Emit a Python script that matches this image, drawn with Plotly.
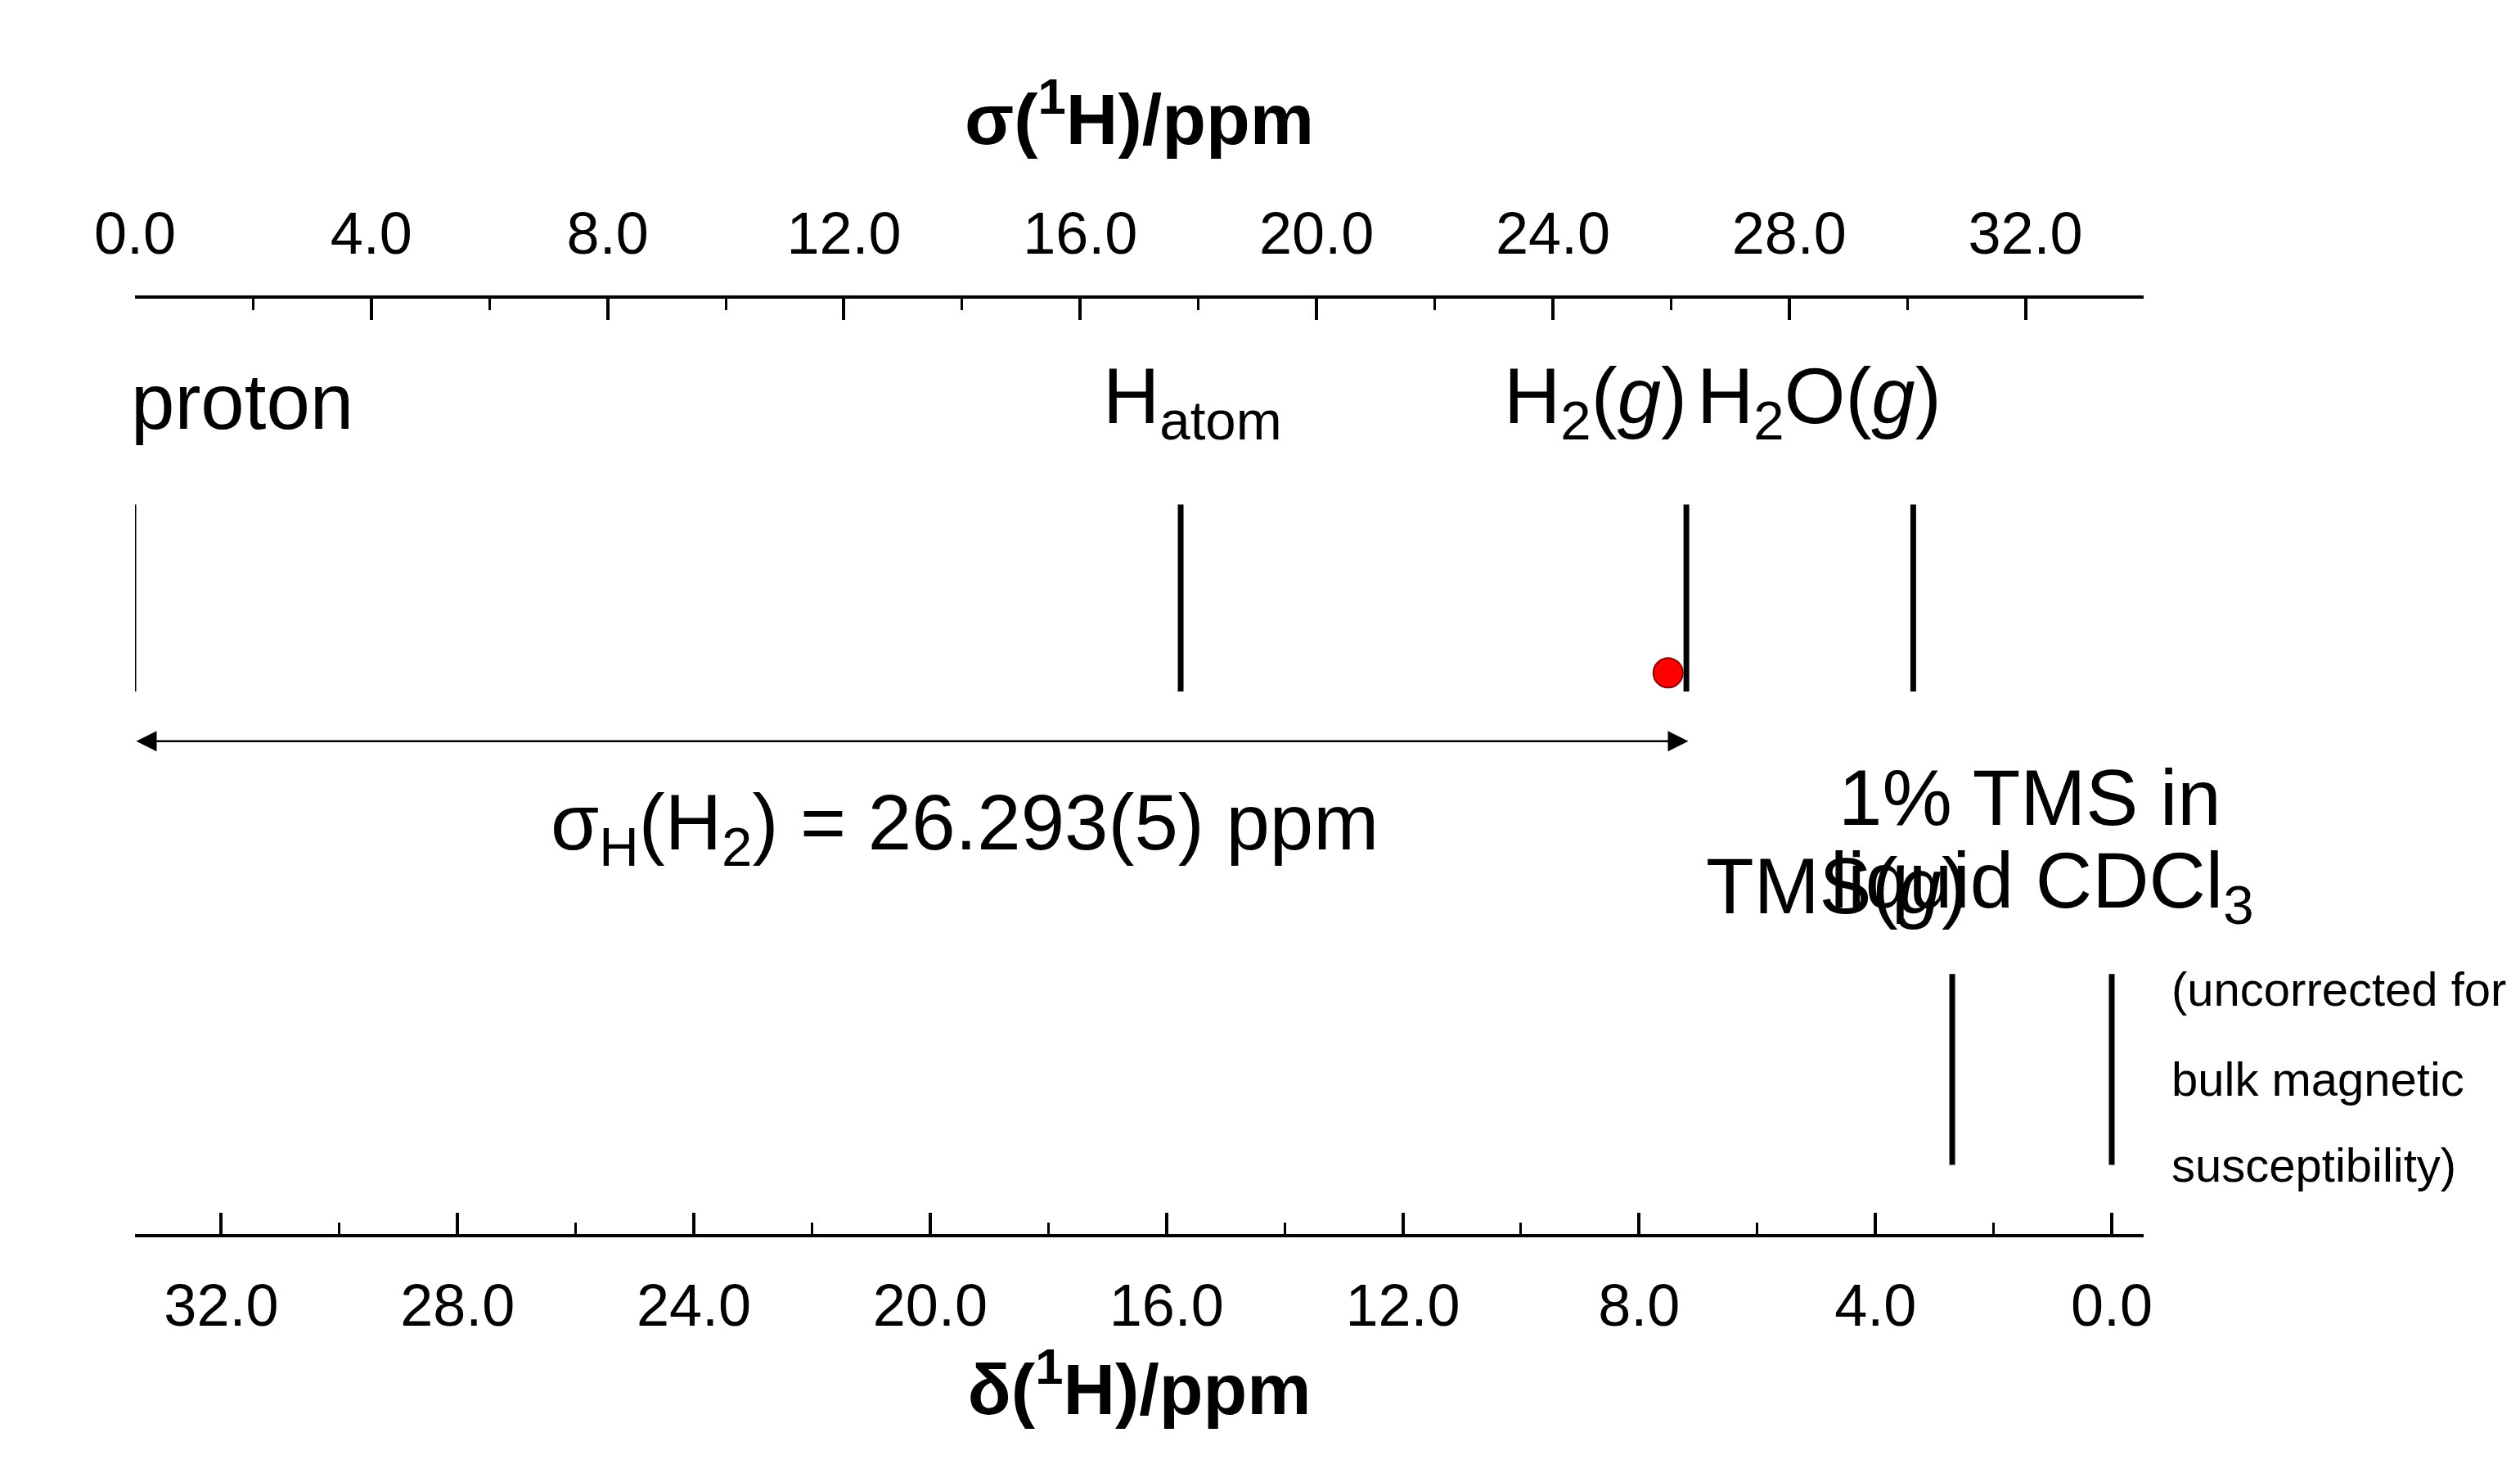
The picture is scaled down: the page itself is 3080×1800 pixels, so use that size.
import plotly.graph_objects as go

# shielding scale (sigma, ppm) and the TMS reference offset
sigma_tms = 33.46
sigma_max = 34.0
upper_names = ['proton', 'H<sub>atom</sub>', 'H<sub>2</sub>(<i>g</i>)', 'H<sub>2</sub>O(<i>g</i>)']
upper_sigma = [0.0, 17.7, 26.26, 30.1]
upper_width = [3, 7, 7, 7]
lower_delta = [2.7, 0.0]
sigma_h2 = 26.293
dot_sigma = 25.95

fig = go.Figure()
for s, w in zip(upper_sigma, upper_width):
    fig.add_trace(go.Scatter(x=[s, s], y=[0.58, 0.78], mode='lines',
                             line=dict(color='black', width=w), showlegend=False))
for d in lower_delta:
    fig.add_trace(go.Scatter(x=[d, d], y=[0.074, 0.278], mode='lines', xaxis='x2',
                             line=dict(color='black', width=7), showlegend=False))
fig.add_trace(go.Scatter(x=[dot_sigma], y=[0.60], mode='markers', showlegend=False,
                         marker=dict(color='red', size=36, line=dict(color='#8b0000', width=2))))

fig.add_annotation(x=sigma_h2, y=0.527, ax=0, ay=0.527, axref='x', ayref='y', xref='x', yref='y',
                   text='', showarrow=True, arrowhead=2, arrowside='end+start',
                   arrowsize=2, arrowwidth=2.5, arrowcolor='black')

big = dict(family='Liberation Sans, Arial', size=96, color='black')
small = dict(family='Liberation Sans, Arial', size=58, color='black')
label_x = [-0.1, 17.9, 26.3, 30.6]
for name, lx in zip(upper_names, label_x):
    fig.add_annotation(x=lx / sigma_max, xref='paper', y=0.89, text=name, showarrow=False, font=big)
fig.add_annotation(x=14.05, y=0.434, text='σ<sub>H</sub>(H<sub>2</sub>) = 26.293(5) ppm', showarrow=False, font=big)
fig.add_annotation(x=28.8, y=0.372, text='TMS(<i>g</i>)', showarrow=False, font=big)
fig.add_annotation(x=35.35 / sigma_max, xref='paper', y=0.467, text='1% TMS in', showarrow=False, font=big)
fig.add_annotation(x=35.9 / sigma_max, xref='paper', y=0.372, text='liquid CDCl<sub>3</sub>', showarrow=False, font=big)
for t, yy in zip(['(uncorrected for', 'bulk magnetic', 'susceptibility)'], [0.262, 0.166, 0.074]):
    fig.add_annotation(x=34.45 / sigma_max, xref='paper', y=yy, text=t, showarrow=False,
                       xanchor='left', font=small)

axis_common = dict(showgrid=False, zeroline=False, showline=True, linecolor='black', linewidth=4,
                   ticks='inside', ticklen=26, tickwidth=4, tickcolor='black',
                   minor=dict(ticks='inside', ticklen=14, tickwidth=3, tickcolor='black', dtick=2),
                   dtick=4, tickformat='.1f', ticklabelstandoff=22,
                   tickfont=dict(family='Liberation Sans, Arial', size=72, color='black'))
title_font = dict(family='Liberation Sans, Arial', size=88, color='black')
fig.update_layout(
    width=3080, height=1800, plot_bgcolor='white', paper_bgcolor='white',
    margin=dict(l=157, r=468, t=357, b=300),
    xaxis=dict(range=[0, sigma_max], side='top', tick0=0,
               title=dict(text='<b>σ(<sup>1</sup>H)/ppm</b>', standoff=40, font=title_font), **axis_common),
    xaxis2=dict(range=[sigma_tms, sigma_tms - sigma_max], overlaying='x', side='bottom', anchor='y', tick0=0,
                title=dict(text='<b>δ(<sup>1</sup>H)/ppm</b>', standoff=20, font=title_font), **axis_common),
    yaxis=dict(range=[0, 1], visible=False),
)
fig.write_html('out.html')
